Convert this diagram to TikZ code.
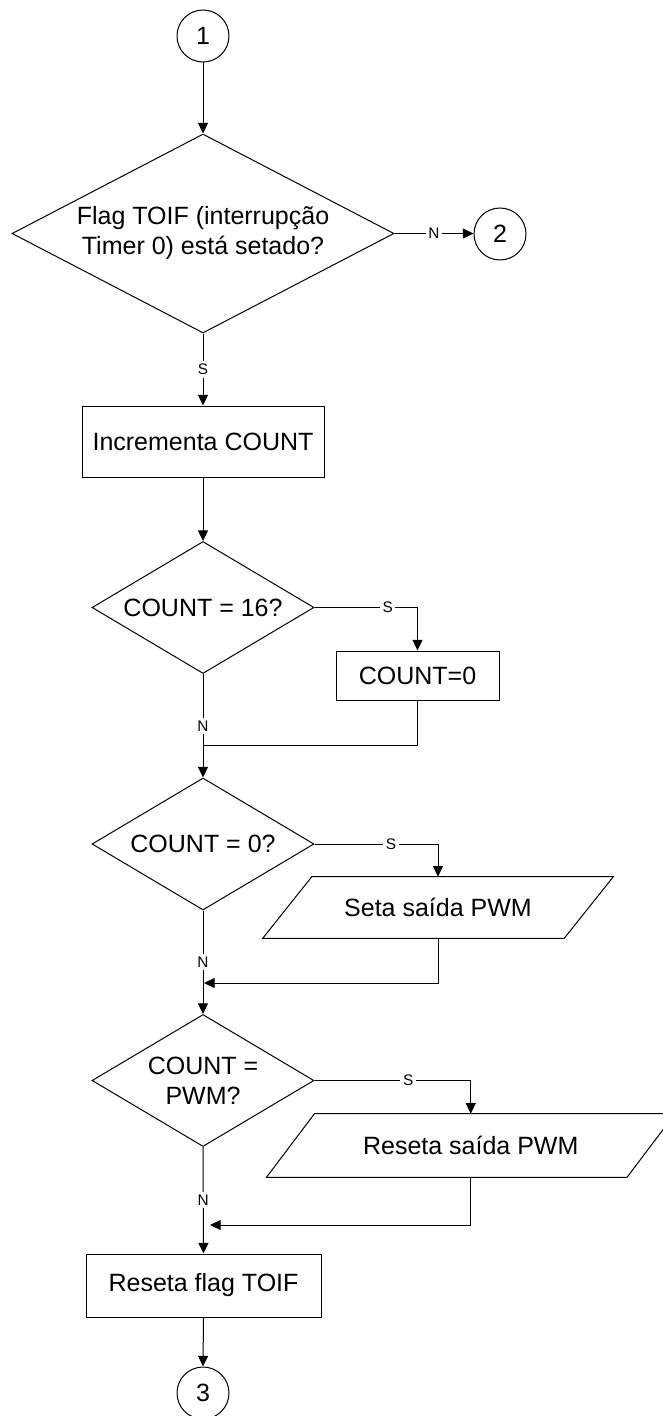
\documentclass[tikz,border=0pt]{standalone}
\usepackage{fontspec}
\setmainfont{Liberation Sans}
\usetikzlibrary{shapes.geometric,arrows.meta,calc}

\begin{document}
\begin{tikzpicture}[x=0.75pt,y=-0.75pt,
  every node/.style={font=\fontsize{18.75}{22.5}\selectfont},
  line/.style={draw=black,line width=0.75pt},
  arr/.style={line,-{Triangle[length=8pt,width=7.5pt]}},
  conn/.style={circle,draw,line width=0.75pt,minimum size=39pt,inner sep=0pt},
  proc/.style={rectangle,draw,line width=0.75pt,inner sep=0pt},
  decide/.style={diamond,draw,line width=0.75pt,inner sep=0pt,align=center},
  smalldecide/.style={decide,aspect=1.68,minimum width=222*0.75pt,minimum height=132*0.75pt},
  iobox/.style={rectangle,inner sep=0pt},
  lbl/.style={fill=white,inner sep=2pt,font=\fontsize{11.5}{13}\selectfont}
]
\clip (0,0) rectangle (663,1416);

% shapes
\node[conn] (c1) at (203,36) {1};
\node[decide,aspect=1.92,minimum width=382*0.75pt,minimum height=199*0.75pt] (d1) at (203,233.5)
  {Flag TOIF (interrupção\\Timer 0) está setado?};
\node[conn] (c2) at (500,234) {2};
\node[proc,minimum width=242*0.75pt,minimum height=71*0.75pt] (b1) at (203,441.5) {Incrementa COUNT};
\node[smalldecide] (d2) at (203,607.5) {COUNT = 16?};
\node[proc,minimum width=163*0.75pt,minimum height=49*0.75pt] (b2) at (417.5,675.5) {COUNT=0};
\node[smalldecide] (d3) at (203,844) {COUNT = 0?};
\node[iobox,minimum width=301*0.75pt,minimum height=61*0.75pt] (p1) at (438,907.5) {Seta saída PWM};
\node[smalldecide] (d4) at (203,1080.5) {COUNT =\\PWM?};
\node[iobox,minimum width=360*0.75pt,minimum height=63*0.75pt] (p2) at (470.75,1145.5) {Reseta saída PWM};
\node[proc,minimum width=235*0.75pt,minimum height=63*0.75pt] (b3) at (203.5,1285.5) {Reseta flag TOIF};
\node[conn] (c3) at (203,1393) {3};

% parallelogram outlines of the output steps
\draw[line] ($(p1.north west)+(24.5,0)$) -- ($(p1.north east)+(24.5,0)$)
  -- ($(p1.south east)-(24.5,0)$) -- ($(p1.south west)-(24.5,0)$) -- cycle;
\draw[line] ($(p2.north west)+(24,0)$) -- ($(p2.north east)+(24,0)$)
  -- ($(p2.south east)-(24,0)$) -- ($(p2.south west)-(24,0)$) -- cycle;

% merge points on the main line
\coordinate (m1) at (203,745);
\coordinate (m2) at (204,983);
\coordinate (m3) at (210,1225);

% connectors
\draw[arr] (c1.south) -- (d1.north);
\draw[arr] (d1.east) -- node[lbl]{N} (d1.east -| c2.west);
\draw[arr] (d1.south) -- node[lbl]{S} (b1.north);
\draw[arr] (b1.south) -- (d2.north);
\draw[arr] (d2.east) -- node[lbl,pos=0.71]{S} (d2.east -| b2.north) -- (b2.north);
\draw[arr] (d2.south) -- node[lbl]{N} (d3.north);
\draw[line] (b2.south) |- (m1);
\draw[arr] (d3.east) -- node[lbl,pos=0.62]{S} (d3.east -| p1.north) -- (p1.north);
\draw[arr] (d3.south) -- node[lbl]{N} (d4.north);
\draw[arr] (p1.south) |- (m2);
\draw[arr] (d4.east) -- node[lbl,pos=0.6]{S} (d4.east -| p2.north) -- (p2.north);
\draw[arr] (d4.south) -- node[lbl]{N} (b3.north);
\draw[arr] (p2.south) |- (m3);
\draw[arr] (b3.south) -- (c3.north);
\end{tikzpicture}
\end{document}
